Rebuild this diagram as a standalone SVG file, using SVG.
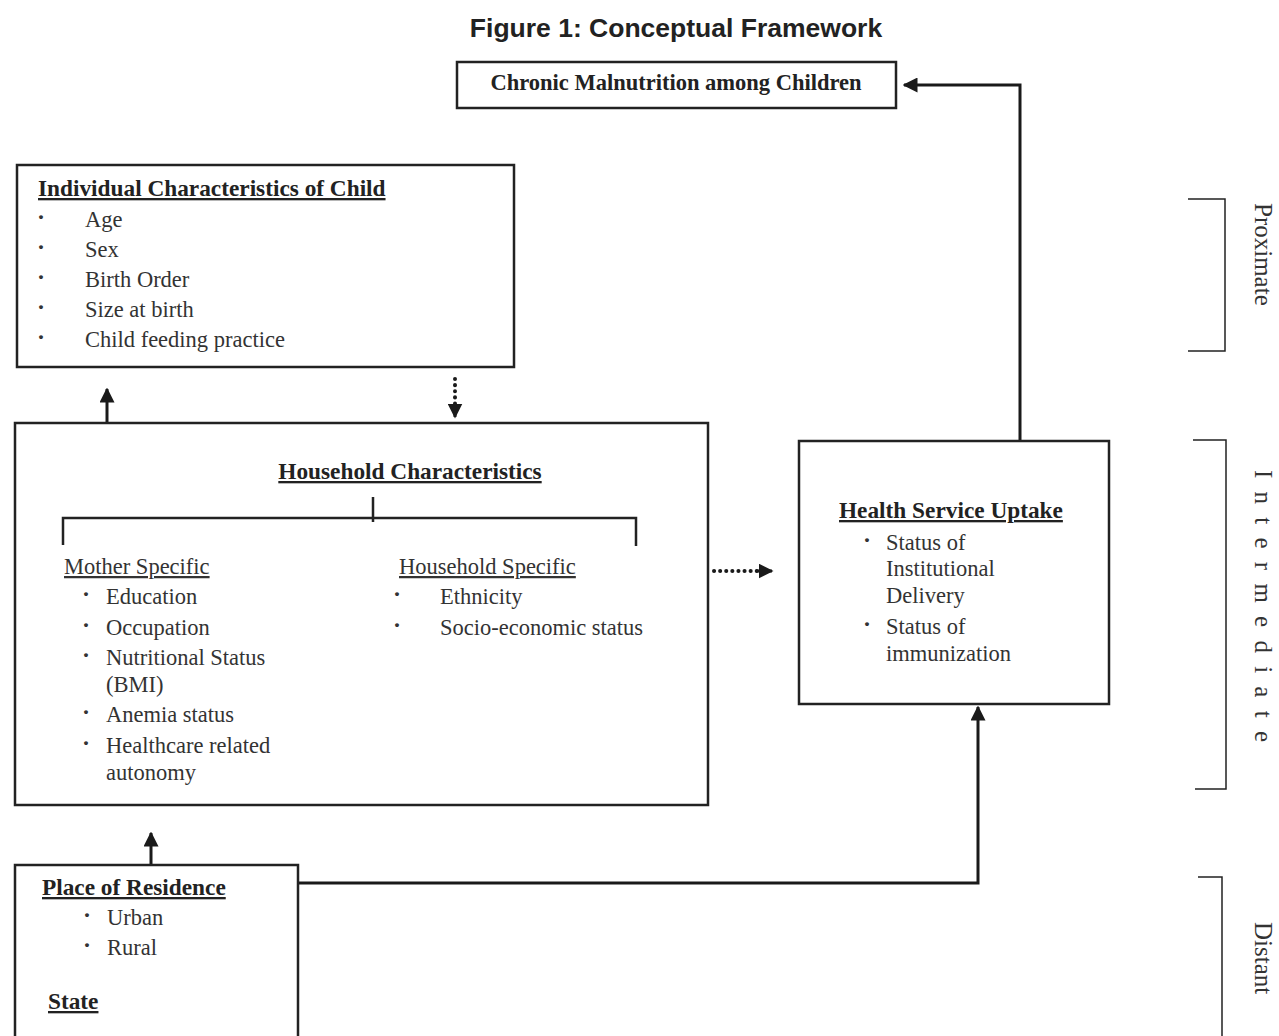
<svg xmlns="http://www.w3.org/2000/svg" width="1279" height="1036" viewBox="0 0 1279 1036">
<defs>
<style>
.box{fill:#fff;stroke:#222;stroke-width:2.5}
.t{font-family:"Liberation Serif",serif;font-size:22.5px;fill:#333}
.b{font-family:"Liberation Serif",serif;font-size:24px;font-weight:bold;fill:#333}
.h{font-family:"Liberation Serif",serif;font-size:23.3px;font-weight:bold;fill:#222;text-decoration:underline}
.c{stroke:#1a1a1a;stroke-width:3;fill:none}
.d{stroke:#1a1a1a;stroke-width:4;fill:none;stroke-dasharray:0.1 6;stroke-linecap:round}
.br{stroke:#222;stroke-width:1.5;fill:none}
.v{font-family:"Liberation Serif",serif;font-size:25px;fill:#333}
</style>
<marker id="ah" viewBox="0 0 10 10" refX="9" refY="5" markerWidth="5" markerHeight="5" markerUnits="strokeWidth" orient="auto"><path d="M0,0 L10,5 L0,10 z" fill="#1a1a1a"/></marker>
</defs>
<rect width="1279" height="1036" fill="#fff"/>
<text x="676" y="37" text-anchor="middle" font-family="Liberation Sans,Arial,sans-serif" font-size="26.5" font-weight="bold" fill="#222">Figure 1: Conceptual Framework</text>

<g id="connectors">
<path class="c" d="M1020,440 V85 H904" marker-end="url(#ah)"/>
<path class="c" d="M107,423 V389" marker-end="url(#ah)"/>
<path class="d" d="M455,379 V404"/>
<path class="c" d="M455,404 V417" marker-end="url(#ah)" stroke-width="2"/>
<path class="d" d="M714,571 H758"/>
<path class="c" d="M756,571 H772" marker-end="url(#ah)" stroke-width="2"/>
<path class="c" d="M298,883 H978 V707" marker-end="url(#ah)"/>
<path class="c" d="M151,865 V833" marker-end="url(#ah)"/>
</g>

<g id="chronic">
<rect class="box" x="457" y="62" width="439" height="46"/>
<text x="676" y="90" text-anchor="middle" font-family="Liberation Serif,serif" font-size="22.5" font-weight="bold" fill="#222">Chronic Malnutrition among Children</text>
</g>

<g id="individual">
<rect class="box" x="17" y="165" width="497" height="202"/>
<text class="h" x="38" y="196">Individual Characteristics of Child</text>
<g class="t">
<text class="b" x="37" y="225">·</text><text x="85" y="227">Age</text>
<text class="b" x="37" y="255">·</text><text x="85" y="257">Sex</text>
<text class="b" x="37" y="285">·</text><text x="85" y="287">Birth Order</text>
<text class="b" x="37" y="315">·</text><text x="85" y="317">Size at birth</text>
<text class="b" x="37" y="345">·</text><text x="85" y="347">Child feeding practice</text>
</g>
</g>

<g id="household">
<rect class="box" x="15" y="423" width="693" height="382"/>
<text class="h" x="410" y="479" text-anchor="middle">Household Characteristics</text>
<path d="M63,545 V518 H636 V546 M373,497 V522" stroke="#222" stroke-width="2.5" fill="none"/>
<text class="t" x="64" y="574" text-decoration="underline">Mother Specific</text>
<text class="t" x="399" y="574" text-decoration="underline">Household Specific</text>
<g class="t">
<text class="b" x="82" y="602">·</text><text x="106" y="604">Education</text>
<text class="b" x="82" y="633">·</text><text x="106" y="635">Occupation</text>
<text class="b" x="82" y="663">·</text><text x="106" y="665">Nutritional Status</text>
<text x="106" y="692">(BMI)</text>
<text class="b" x="82" y="720">·</text><text x="106" y="722">Anemia status</text>
<text class="b" x="82" y="751">·</text><text x="106" y="753">Healthcare related</text>
<text x="106" y="780">autonomy</text>
<text class="b" x="393" y="602">·</text><text x="440" y="604">Ethnicity</text>
<text class="b" x="393" y="633">·</text><text x="440" y="635">Socio-economic status</text>
</g>
</g>

<g id="health">
<rect class="box" x="799" y="441" width="310" height="263"/>
<text class="h" x="839" y="518">Health Service Uptake</text>
<g class="t">
<text class="b" x="863" y="548">·</text><text x="886" y="550">Status of</text>
<text x="886" y="576">Institutional</text>
<text x="886" y="603">Delivery</text>
<text class="b" x="863" y="632">·</text><text x="886" y="634">Status of</text>
<text x="886" y="661">immunization</text>
</g>
</g>

<g id="residence">
<path class="box" d="M15,1040 V865 H298 V1040"/>
<text class="h" x="42" y="895">Place of Residence</text>
<g class="t">
<text class="b" x="83" y="923">·</text><text x="107" y="925">Urban</text>
<text class="b" x="83" y="953">·</text><text x="107" y="955">Rural</text>
</g>
<text class="h" x="48" y="1009">State</text>
</g>

<g id="levels">
<path class="br" d="M1188,199 H1225 V351 H1188"/>
<text class="v" transform="translate(1255,203) rotate(90)">Proximate</text>
<path class="br" d="M1193,440 H1226 V789 H1195"/>
<text class="v" transform="translate(1255,470) rotate(90)" textLength="272" lengthAdjust="spacing">Intermediate</text>
<path class="br" d="M1198,877 H1222 V1036"/>
<text class="v" transform="translate(1255,922) rotate(90)">Distant</text>
</g>
</svg>
